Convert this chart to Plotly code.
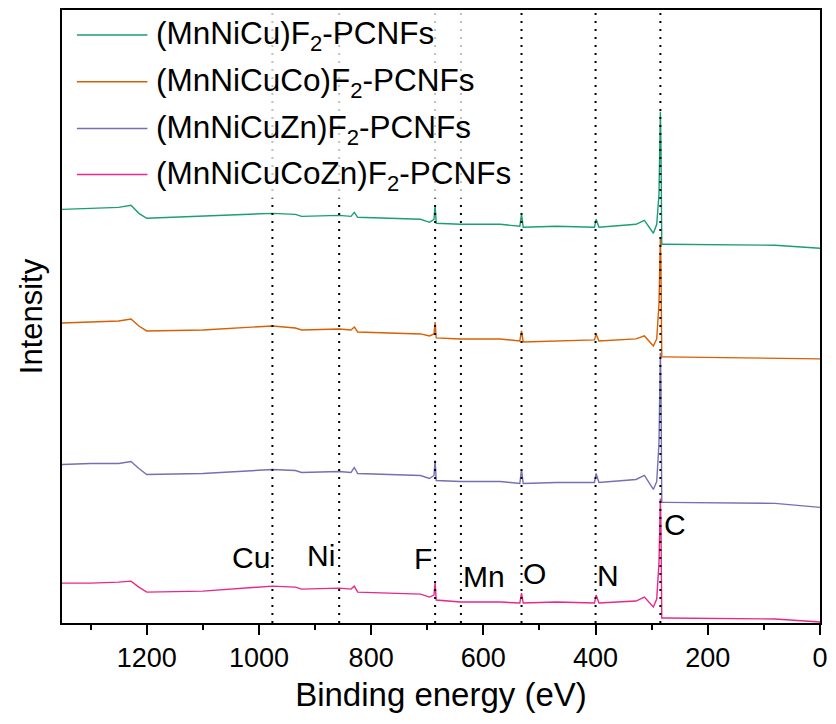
import plotly.graph_objects as go

# ---- data (binding energy in eV, intensity in a.u.) ----
energy = [1351, 1300, 1250, 1228, 1214, 1200, 1100, 976, 935, 924,
          857, 836, 830, 824, 712, 696, 688, 686, 684, 641,
          570, 535, 532, 529, 470, 402, 399, 394, 328, 313,
          297, 291, 287, 284.5, 283.5, 282, 277, 80, 0]

int_mnnicu = [415, 416, 417, 419, 411, 406, 408, 411, 410, 408,
              409, 408, 412, 407, 405, 402, 405, 419, 401, 400,
              400, 398, 410, 397, 398, 397, 405, 397, 400, 404,
              391, 400, 430, 513, 480, 380, 380, 379, 376]

int_mnnicuco = [301, 302, 303, 305, 298, 293, 294, 298, 296, 294,
                295, 294, 297, 292, 290, 288, 290, 302, 286, 285,
                285, 283, 293, 282, 283, 284, 290, 283, 285, 288,
                278, 285, 320, 386, 360, 267, 267, 266, 265]

int_mnnicuzn = [159, 160, 160, 162, 155, 149, 150, 154, 153, 151,
                152, 151, 156, 150, 148, 145, 148, 163, 143, 142,
                142, 140, 154, 140, 141, 141, 150, 141, 144, 148,
                134, 142, 180, 271, 240, 121, 121, 120, 116]

int_mnnicucozn = [40, 40, 41, 42, 36, 31, 32, 37, 36, 34,
                  35, 34, 37, 31, 29, 26, 28, 41, 23, 21,
                  21, 20, 30, 20, 21, 20, 28, 20, 22, 26,
                  16, 24, 60, 125, 100, 5, 5, 4, 1]

series_names = ["(MnNiCu)F<sub>2</sub>-PCNFs", "(MnNiCuCo)F<sub>2</sub>-PCNFs",
                "(MnNiCuZn)F<sub>2</sub>-PCNFs", "(MnNiCuCoZn)F<sub>2</sub>-PCNFs"]
series_colors = ["#1b9e77", "#d95f02", "#7570b3", "#e7298a"]
series_values = [int_mnnicu, int_mnnicuco, int_mnnicuzn, int_mnnicucozn]

# element reference lines (eV) and labels
element_names = ["Cu", "Ni", "F", "Mn", "O", "N", "C"]
element_energy = [976, 857, 686, 640, 532, 400, 284.5]
label_x = [1015, 889, 708, 598, 508, 378, 258]
label_y = [66, 68, 65, 47, 50, 48, 99]

x_range = [1351, 0]
y_range = [0, 615]
FONT = "Liberation Sans, Arial, sans-serif"

fig = go.Figure()
for name, col, vals in zip(series_names, series_colors, series_values):
    fig.add_trace(go.Scatter(x=energy, y=vals, mode="lines", name=name,
                             line=dict(color=col, width=1.4), showlegend=False))

shapes = []
for e in element_energy:
    shapes.append(dict(type="line", xref="x", yref="paper", x0=e, x1=e, y0=0, y1=1,
                       line=dict(color="black", width=2, dash="2px,6px"), layer="above"))

# legend box (semi-transparent) and legend entries
L, W, T, H = 62, 763, 8, 615
def px(xp):
    return (xp - L) / W
def py(yp):
    return 1 - (yp - T) / H

shapes.append(dict(type="rect", xref="paper", yref="paper", x0=px(64), x1=px(522),
                   y0=py(197), y1=py(10), fillcolor="rgba(255,255,255,0.75)",
                   line=dict(width=0), layer="above"))
annotations = []
row_y = [33, 80, 127, 173]
for name, col, ry in zip(series_names, series_colors, row_y):
    shapes.append(dict(type="line", xref="paper", yref="paper", x0=px(77), x1=px(148),
                       y0=py(ry), y1=py(ry), line=dict(color=col, width=1.5), layer="above"))
    annotations.append(dict(x=px(155), y=py(ry + 1), xref="paper", yref="paper", text=name,
                            showarrow=False, xanchor="left", yanchor="middle",
                            font=dict(family=FONT, size=31.5, color="black")))

for n, lx, ly in zip(element_names, label_x, label_y):
    annotations.append(dict(x=lx, y=ly, xref="x", yref="y", text=n, showarrow=False,
                            xanchor="center", yanchor="middle",
                            font=dict(family=FONT, size=30, color="black")))

fig.update_layout(
    width=836, height=724,
    margin=dict(l=62, r=11, t=8, b=101),
    paper_bgcolor="white", plot_bgcolor="white",
    font=dict(family=FONT, color="black"),
    shapes=shapes, annotations=annotations,
    showlegend=False,
)
fig.update_xaxes(range=x_range, showgrid=False, zeroline=False,
                 showline=True, linecolor="black", linewidth=2, mirror=True,
                 ticks="outside", ticklen=10, tickwidth=2, tickcolor="black",
                 tick0=0, dtick=200, tickfont=dict(size=27, family=FONT),
                 minor=dict(dtick=100, ticks="outside", ticklen=5, tickwidth=2, tickcolor="black"),
                 title=dict(text="Binding energy (eV)", font=dict(size=33, family=FONT), standoff=10))
fig.update_yaxes(range=y_range, showgrid=False, zeroline=False,
                 showline=True, linecolor="black", linewidth=2, mirror=True,
                 ticks="", showticklabels=False,
                 title=dict(text="Intensity", font=dict(size=31, family=FONT), standoff=8))

fig.write_html("out.html")
